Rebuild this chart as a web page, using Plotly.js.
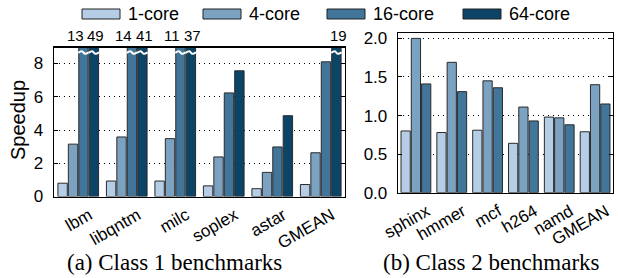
<!DOCTYPE html>
<html><head><meta charset="utf-8">
<script src="https://cdn.plot.ly/plotly-3.0.1.min.js"></script>
<style>html,body{margin:0;padding:0;background:#fff}</style>
</head><body>
<div id="chart" style="width:618px;height:278px"></div>
<script>
// ---- data ----
const seriesNames = ['1-core', '4-core', '16-core', '64-core'];
const class1Benchmarks = ['lbm', 'libqntm', 'milc', 'soplex', 'astar', 'GMEAN'];
const class1Core1  = [0.80, 0.93, 0.93, 0.64, 0.47, 0.72];
const class1Core4  = [3.15, 3.58, 3.48, 2.38, 1.45, 2.63];
const class1Core16 = [13, 14, 11, 6.23, 2.98, 8.10];
const class1Core64 = [49, 41, 37, 7.56, 4.86, 19];
const class2Benchmarks = ['sphinx', 'hmmer', 'mcf', 'h264', 'namd', 'GMEAN'];
const class2Core1  = [0.80, 0.78, 0.81, 0.64, 0.98, 0.79];
const class2Core4  = [2.00, 1.69, 1.45, 1.11, 0.97, 1.40];
const class2Core16 = [1.41, 1.31, 1.36, 0.93, 0.88, 1.15];
const class1YTicks = [0, 2, 4, 6, 8];
const class2YTicks = [0, 0.5, 1.0, 1.5, 2.0];
const captions = ['(a) Class 1 benchmarks', '(b) Class 2 benchmarks'];

// ---- style ----
const W = 618, H = 278;
const colors = ['#b5cde5', '#7ba2c0', '#41759a', '#0b4467'];
const SANS = '"Liberation Sans", Arial, sans-serif';
const SERIF = '"Liberation Serif", "Times New Roman", serif';
const BARGAP = 0.14, BARGROUPGAP = 0.1;
const Y1MAX = 8.95, Y2MAX = 2.07;
const px = v => v / W, py = v => 1 - v / H;

const class1Series = [class1Core1, class1Core4, class1Core16, class1Core64];
const class2Series = [class2Core1, class2Core4, class2Core16];
const idx1 = class1Benchmarks.map((_, i) => i);
const idx2 = class2Benchmarks.map((_, i) => i);

const traces = [];
class1Series.forEach((vals, s) => traces.push({
  type: 'bar', x: idx1, y: vals, xaxis: 'x', yaxis: 'y', name: seriesNames[s],
  marker: {color: colors[s], line: {color: '#2a2a2a', width: 1}}, showlegend: false, hoverinfo: 'none'
}));
class2Series.forEach((vals, s) => traces.push({
  type: 'bar', x: idx2, y: vals, xaxis: 'x2', yaxis: 'y2', name: seriesNames[s],
  marker: {color: colors[s], line: {color: '#2a2a2a', width: 1}}, showlegend: false, hoverinfo: 'none'
}));

// bar geometry helpers (group mode)
function barCenter(cat, s, n) {
  const slot = (1 - BARGAP) / n;
  return cat - (1 - BARGAP) / 2 + (s + 0.5) * slot;
}
function barHalf(n) { return (1 - BARGAP) / n * (1 - BARGROUPGAP) / 2; }

// break marks + value labels for clipped bars
const bx = [], by = [];
const annotations = [];
class1Series.forEach((vals, s) => {
  vals.forEach((v, j) => {
    if (v > Y1MAX) {
      const c = barCenter(j, s, 4), h = barHalf(4);
      bx.push(c - h - 0.01, c - h * 0.35, c + h * 0.35, c + h + 0.01, null);
      by.push(8.64, 8.74, 8.58, 8.68, null);
      annotations.push({
        xref: 'x', yref: 'paper', x: c, y: py(35), text: String(v), showarrow: false,
        xanchor: 'center', yanchor: 'middle', xshift: s === 2 ? -8 : 2,
        font: {family: SANS, size: 15, color: '#000'}
      });
    }
  });
});
traces.push({type: 'scatter', mode: 'lines', x: bx, y: by, xaxis: 'x', yaxis: 'y',
  line: {color: '#fff', width: 2, shape: 'spline'}, showlegend: false, hoverinfo: 'none'});

// captions
annotations.push({xref: 'paper', yref: 'paper', x: px(174), y: py(262), text: captions[0], showarrow: false,
  xanchor: 'center', yanchor: 'middle', font: {family: SERIF, size: 23, color: '#000'}});
annotations.push({xref: 'paper', yref: 'paper', x: px(491), y: py(262), text: captions[1], showarrow: false,
  xanchor: 'center', yanchor: 'middle', font: {family: SERIF, size: 23, color: '#000'}});
// y title
annotations.push({xref: 'paper', yref: 'paper', x: px(18), y: py(120), text: 'Speedup', showarrow: false,
  textangle: -90, xanchor: 'center', yanchor: 'middle', font: {family: SANS, size: 20, color: '#000'}});

// legend (drawn manually)
const legendX = [82, 203, 327, 463];
const shapes = [];
seriesNames.forEach((n, s) => {
  shapes.push({type: 'rect', xref: 'paper', yref: 'paper', x0: px(legendX[s]), x1: px(legendX[s] + 38),
    y0: py(19), y1: py(9), fillcolor: colors[s], line: {color: '#222', width: 1}});
  annotations.push({xref: 'paper', yref: 'paper', x: px(legendX[s] + 44), y: py(14), text: n, showarrow: false,
    xanchor: 'left', yanchor: 'middle', font: {family: SANS, size: 18, color: '#000'}});
});

const xCommon = {
  showline: true, mirror: true, linecolor: '#000', linewidth: 1.3, ticks: '', showgrid: false,
  zeroline: false, tickangle: -30, tickfont: {family: SANS, size: 17, color: '#000'}, range: [-0.5, 5.5],
  ticklabelshift: 11, ticklabelstandoff: 1
};
const yCommon = {
  showline: true, mirror: 'ticks', linecolor: '#000', linewidth: 1.3, ticks: 'inside', ticklen: 4,
  tickcolor: '#000', showgrid: true, gridcolor: '#000', griddash: '1px,4px', gridwidth: 1, zeroline: false,
  tickfont: {family: SANS, size: 17, color: '#000'}, ticklabelstandoff: 6
};

const layout = {
  width: W, height: H, margin: {l: 0, r: 0, t: 0, b: 0},
  paper_bgcolor: '#fff', plot_bgcolor: '#fff', barmode: 'group', bargap: BARGAP, bargroupgap: BARGROUPGAP,
  showlegend: false,
  xaxis: Object.assign({}, xCommon, {domain: [px(54), px(345)], anchor: 'y',
    tickmode: 'array', tickvals: idx1, ticktext: class1Benchmarks}),
  yaxis: Object.assign({}, yCommon, {domain: [py(196.5), py(47.7)], anchor: 'x', range: [0, Y1MAX],
    tickmode: 'array', tickvals: class1YTicks, ticktext: class1YTicks.map(String)}),
  xaxis2: Object.assign({}, xCommon, {domain: [px(398), px(613)], anchor: 'y2',
    tickmode: 'array', tickvals: idx2, ticktext: class2Benchmarks}),
  yaxis2: Object.assign({}, yCommon, {domain: [py(192.7), py(33)], anchor: 'x2', range: [0, Y2MAX],
    tickmode: 'array', tickvals: class2YTicks, ticktext: class2YTicks.map(v => v.toFixed(1))}),
  annotations: annotations, shapes: shapes
};

Plotly.newPlot('chart', traces, layout, {staticPlot: true, displayModeBar: false});
</script>
</body></html>
